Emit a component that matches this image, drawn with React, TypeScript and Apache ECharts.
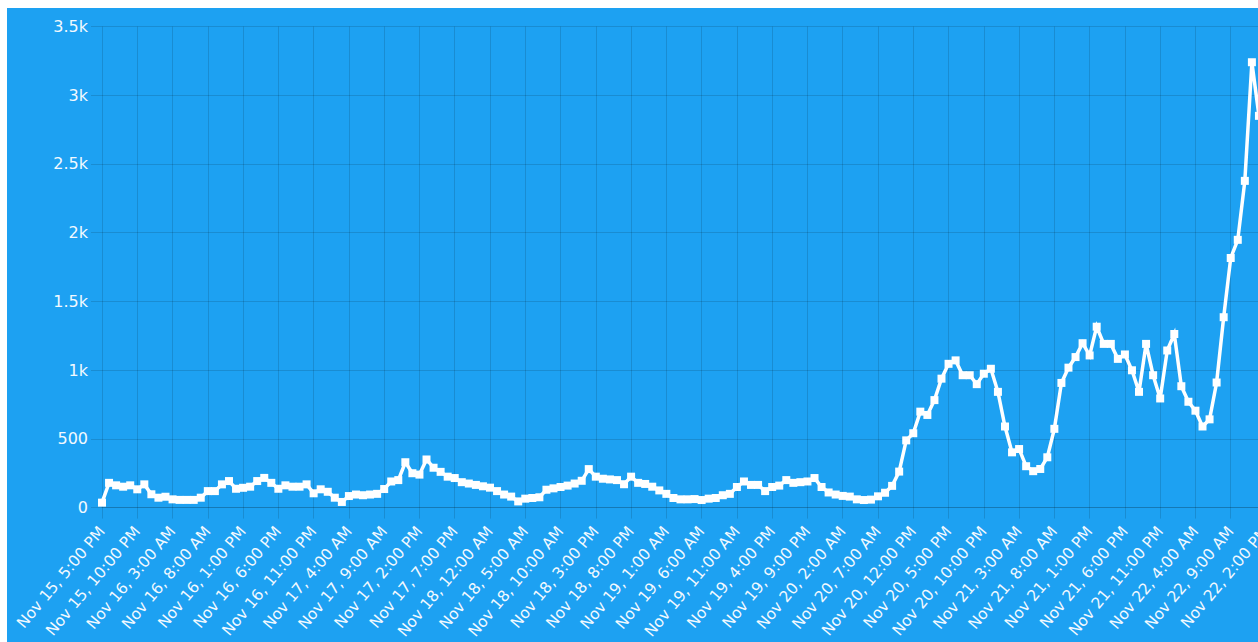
import React, { useEffect, useRef } from "react";
import * as echarts from "echarts";

// Hourly categories: Nov 15, 5:00 PM ... Nov 22 (166 hours)
const startDay = 15;
const startHour = 17;
const hourCount = 166;

const values: number[] = [
  36, 180, 162, 152, 162, 133, 169, 97, 72, 79,
  60, 56, 56, 56, 72, 120, 120, 169, 193, 137,
  144, 152, 193, 216, 180, 137, 162, 152, 152, 169,
  104, 133, 115, 72, 41, 84, 95, 90, 95, 100,
  135, 190, 200, 330, 250, 240, 350, 290, 260, 225,
  215, 185, 175, 165, 155, 145, 120, 95, 80, 45,
  65, 70, 75, 130, 140, 150, 160, 175, 195, 280,
  225, 210, 205, 200, 170, 225, 180, 172, 152, 125,
  100, 70, 60, 60, 62, 55, 65, 70, 90, 100,
  150, 190, 165, 165, 120, 150, 160, 200, 180, 185,
  190, 215, 150, 110, 95, 85, 80, 60, 55, 58,
  82, 108, 158, 262, 489, 541, 698, 674, 782, 938,
  1046, 1071, 963, 963, 898, 974, 1010, 842, 590, 402,
  426, 301, 265, 281, 366, 573, 907, 1018, 1095, 1196,
  1107, 1316, 1191, 1191, 1082, 1114, 999, 842, 1191, 963,
  794, 1143, 1263, 883, 770, 705, 590, 642, 910, 1385,
  1816, 1948, 2377, 3240, 2850, 2600,
];

function hourLabel(i: number): string {
  const total = startHour + i;
  const day = startDay + Math.floor(total / 24);
  const h24 = total % 24;
  const ampm = h24 < 12 ? "AM" : "PM";
  const h12 = h24 % 12 === 0 ? 12 : h24 % 12;
  return `Nov ${day}, ${h12}:00 ${ampm}`;
}

const categories: string[] = Array.from({ length: hourCount }, (_, i) => hourLabel(i));

const yMax = 3500;
const yStep = 500;

export default function App() {
  const ref = useRef<HTMLDivElement>(null);

  useEffect(() => {
    if (!ref.current) return;
    const chart = echarts.init(ref.current, null, { renderer: "svg" });
    const gridColor = "rgba(0,0,0,0.13)";
    const textColor = "#f2f9ff";
    const font = "DejaVu Sans";
    chart.setOption({
      animation: false,
      backgroundColor: "#1da1f2",
      grid: { left: 95, top: 18.5, right: 41, bottom: 130.3, containLabel: false },
      xAxis: {
        type: "category",
        data: categories,
        boundaryGap: false,
        axisLine: { show: true, lineStyle: { color: gridColor, width: 1 } },
        axisTick: { show: true, interval: 4, length: 11, lineStyle: { color: gridColor } },
        splitLine: { show: true, interval: 4, lineStyle: { color: gridColor, width: 1 } },
        axisLabel: {
          interval: 4,
          rotate: 50,
          margin: 21,
          color: textColor,
          fontFamily: font,
          fontSize: 15.5,
        },
      },
      yAxis: {
        type: "value",
        min: 0,
        max: yMax,
        interval: yStep,
        axisLine: { show: false },
        axisTick: { show: true, length: 11, lineStyle: { color: gridColor } },
        splitLine: { show: true, lineStyle: { color: gridColor, width: 1 } },
        axisLabel: {
          margin: 14,
          color: textColor,
          fontFamily: font,
          fontSize: 16,
          formatter: (v: number) => (v >= 1000 ? `${v / 1000}k` : `${v}`),
        },
      },
      series: [
        {
          type: "line",
          data: values,
          symbol: "rect",
          symbolSize: 8,
          showAllSymbol: true,
          itemStyle: { color: "#ffffff" },
          lineStyle: { color: "#ffffff", width: 3.5, join: "miter" },
        },
      ],
    });
    return () => chart.dispose();
  }, []);

  return (
    <div
      style={{
        position: "fixed",
        left: 7,
        top: 8,
        width: 1251,
        height: 634,
        overflow: "hidden",
        background: "#1da1f2",
      }}
    >
      <div ref={ref} style={{ width: 1300, height: 634 }} />
    </div>
  );
}
